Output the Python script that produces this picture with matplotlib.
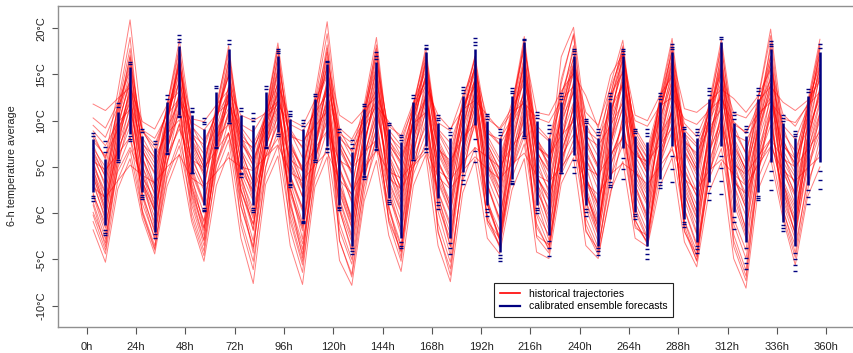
import numpy as np
import matplotlib.pyplot as plt

plt.rcParams['font.family'] = ['Liberation Sans', 'DejaVu Sans']

# lead times (h), midpoints of the 6-h periods
times = list(range(3, 360, 6))

# calibrated ensemble: extreme dashes, dense core, and sparse tail dashes per lead time
ens_top = [8.7, 7.8, 11.9, 16.4, 9.1, 7.8, 12.8, 19.3, 11.4, 10.3,
           13.8, 18.7, 11.4, 10.8, 13.7, 17.8, 11.0, 10.1, 12.9, 16.5,
           9.1, 7.9, 11.8, 17.4, 9.8, 8.5, 12.8, 18.2, 10.6, 9.2,
           13.6, 18.9, 10.7, 9.1, 13.5, 18.8, 10.9, 9.5, 13.0, 17.8,
           10.2, 9.1, 13.0, 17.8, 9.1, 9.1, 13.0, 18.3, 9.3, 9.1,
           13.5, 19.1, 10.9, 9.4, 13.5, 18.6, 10.6, 8.9, 13.4, 18.3]
ens_hi = [8.0, 5.9, 10.9, 15.8, 8.4, 7.0, 12.0, 18.1, 10.6, 9.1,
          13.1, 17.8, 10.6, 9.5, 13.1, 17.0, 10.2, 9.1, 12.4, 16.1,
          8.4, 6.6, 11.3, 16.3, 9.1, 7.7, 12.0, 17.4, 9.8, 8.1,
          12.7, 17.8, 10.0, 8.1, 12.7, 18.5, 10.0, 8.1, 12.0, 17.0,
          9.5, 8.1, 12.0, 17.0, 8.4, 7.7, 12.0, 17.4, 8.8, 8.1,
          12.4, 18.5, 9.8, 8.4, 12.4, 17.8, 9.7, 8.1, 12.7, 17.4]
ens_lo = [2.3, -1.3, 5.9, 8.6, 2.3, -2.0, 6.6, 10.6, 4.3, 0.9,
          7.3, 9.9, 4.8, 0.9, 7.3, 8.8, 3.4, -0.6, 5.9, 7.3,
          0.9, -3.5, 4.1, 7.0, 1.6, -2.7, 5.9, 7.3, 1.6, -2.7,
          4.5, 9.5, 0.9, -4.2, 3.7, 8.4, 0.9, -2.4, 4.5, 6.3,
          0.9, -3.5, 3.7, 7.0, 0.1, -3.5, 3.7, 7.3, -0.6, -3.1,
          3.4, 7.3, 0.1, -3.1, 2.3, 5.5, -0.9, -3.5, 3.0, 5.5]
ens_bot = [1.3, -2.4, 5.5, 7.8, 1.5, -2.7, 6.4, 10.4, 4.3, 0.2,
           7.0, 9.7, 3.9, 0.1, 7.0, 8.4, 2.8, -1.1, 5.5, 6.6,
           0.4, -4.4, 3.7, 6.8, 1.0, -3.8, 5.7, 6.6, 0.5, -4.4,
           3.2, 5.5, -0.3, -5.2, 3.2, 8.1, 0.0, -4.6, 4.3, 4.3,
           -0.3, -4.5, 2.8, 3.7, -0.6, -4.9, 2.7, 3.4, -1.5, -4.3,
           1.4, 2.1, -1.7, -6.0, 1.4, 2.5, -1.9, -6.2, 1.0, 2.6]
ens_tail = [
    [8.4, 1.9, 1.6], [7.2, 6.6, -1.8, -2.1], [11.5, 5.7], [16.1, 8.3, 8.0],
    [8.8, 2.0, 1.8], [7.5, -2.3], [12.4, 6.5], [18.8, 18.5, 10.5],
    [11.1, 10.9, 4.4], [9.9, 9.6, 0.6, 0.4], [13.5, 7.2], [18.3, 9.8],
    [11.1, 4.4, 4.2], [10.3, 10.0, 0.6, 0.3], [13.4, 7.2], [17.5, 17.3, 8.6],
    [10.7, 10.5, 3.2, 3.0], [9.7, 9.4, -0.8, -0.9], [12.7, 5.8, 5.7], [16.3, 7.1, 6.9],
    [8.8, 0.7, 0.6], [7.5, 7.1, -3.8, -4.1], [11.6, 4.0, 3.9], [17.0, 16.7, 6.9],
    [9.5, 1.4, 1.2], [8.2, 7.9, -3.1, -3.5], [12.5, 5.8], [17.9, 17.7, 7.1, 6.9],
    [10.3, 10.1, 1.2, 0.9], [8.8, 8.5, -3.2, -3.8], [13.3, 13.0, 4.1, 3.6], [18.5, 18.2, 8.0, 6.7],
    [10.5, 10.2, 0.5, 0.1], [8.8, 8.5, -4.5, -4.8], [13.2, 13.0, 3.5, 3.3], [18.7, 8.3],
    [10.6, 10.3, 0.6, 0.3], [9.1, 8.7, -3.0, -3.8], [12.7, 12.4, 4.4], [17.5, 17.2, 5.8, 5.0],
    [10.0, 9.8, 0.5, 0.1], [8.8, 8.5, -3.8, -4.1], [12.7, 12.4, 3.4, 3.1], [17.5, 17.2, 6.0, 4.8],
    [8.9, 8.7, -0.1, -0.3], [8.7, 8.3, -3.9, -4.4], [12.7, 12.4, 3.4, 3.0], [18.0, 17.7, 6.2, 4.8],
    [9.1, -0.9, -1.2], [8.8, 8.5, -3.5, -3.9], [13.2, 12.8, 2.9, 2.2], [18.8, 6.2, 4.9, 3.5],
    [10.6, 10.2, -0.4, -1.0], [9.1, 8.8, -3.8, -4.8, -5.4], [13.2, 12.8, 1.9, 1.6], [18.3, 18.1, 4.6, 3.6],
    [10.3, 10.0, -1.3, -1.6], [8.6, 8.4, -4.3, -5.0, -5.6], [13.1, 2.5, 1.8], [17.9, 4.6, 3.6],
]

# historical trajectories (one list of 60 values each)
hist = [
    [11.8, 11.1, 12.4, 13.6, 9.9, 9.1, 11.7, 13.2, 8.6, 7.4, 10.9, 14.8, 9.6, 8.8, 11.0, 13.9,
     10.1, 9.4, 12.2, 15.0, 9.2, 8.0, 10.6, 13.4, 8.4, 6.9, 10.8, 14.6, 9.8, 8.9, 12.7, 15.5,
     10.2, 9.2, 11.4, 14.0, 9.0, 7.8, 11.9, 16.2, 10.9, 9.5, 13.6, 17.1, 10.6, 10.0, 12.7, 14.8,
     9.7, 8.3, 11.5, 15.2, 10.8, 10.3, 12.1, 13.7, 12.0, 11.1, 12.2, 14.3],
    [10.3, 9.2, 11.9, 15.4, 8.8, 7.0, 10.9, 15.9, 10.2, 9.9, 11.7, 13.3, 10.6, 10.0, 10.8, 12.1,
     8.7, 7.2, 11.3, 16.4, 10.6, 9.7, 11.2, 12.6, 9.4, 8.4, 12.0, 15.3, 8.9, 6.7, 11.8, 17.0,
     9.1, 7.5, 12.0, 17.8, 10.9, 10.6, 13.2, 15.1, 12.7, 9.2, 14.9, 17.2, 8.8, 6.5, 11.4, 16.9,
     11.3, 10.9, 12.0, 13.4, 12.4, 10.9, 12.7, 15.6, 10.7, 9.4, 11.8, 16.1],
    [8.2, 6.0, 13.1, 20.9, 9.1, 6.4, 11.2, 17.6, 8.9, 5.3, 11.2, 18.1, 8.1, 5.1, 10.5, 16.8,
     7.9, 4.7, 12.7, 20.7, 9.0, 6.6, 11.7, 19.0, 7.3, 4.0, 11.5, 17.9, 8.0, 5.2, 12.3, 16.6,
     7.5, 4.6, 11.6, 19.1, 8.3, 5.0, 16.9, 20.1, 9.7, 6.8, 13.9, 18.7, 7.8, 4.9, 12.5, 18.9,
     8.6, 5.7, 11.9, 18.8, 9.5, 6.4, 12.6, 19.9, 9.3, 5.9, 12.0, 18.8],
    [7.4, 4.3, 10.8, 16.9, 8.2, 5.8, 11.5, 18.7, 9.5, 6.9, 11.0, 17.2, 9.0, 6.4, 10.9, 18.4,
     8.8, 6.0, 11.8, 17.4, 7.8, 5.0, 10.4, 16.7, 8.7, 6.2, 11.1, 16.2, 7.0, 4.5, 10.9, 15.8,
     8.4, 5.9, 10.8, 17.0, 8.0, 6.0, 12.6, 17.6, 8.6, 6.1, 12.4, 16.5, 9.2, 6.9, 12.1, 17.5,
     8.0, 6.2, 10.9, 16.9, 8.2, 5.4, 11.3, 17.8, 8.7, 6.7, 11.0, 17.2],
    [6.8, 3.9, 10.1, 15.2, 7.2, 4.9, 10.3, 16.2, 8.0, 5.6, 10.3, 16.5, 8.5, 6.9, 10.2, 15.3,
     7.4, 4.5, 10.4, 15.7, 6.1, 2.8, 9.6, 15.5, 7.6, 5.2, 10.2, 14.8, 6.4, 3.6, 10.1, 16.0,
     7.1, 4.1, 9.6, 15.6, 6.6, 4.4, 11.0, 16.0, 7.5, 4.8, 11.2, 15.4, 6.9, 4.3, 10.6, 16.2,
     7.3, 4.8, 10.2, 15.9, 7.0, 4.2, 10.2, 16.3, 7.4, 5.4, 10.1, 15.6],
    [6.0, 3.2, 9.4, 14.3, 4.1, 0.3, 8.0, 12.6, 7.6, 5.0, 10.4, 15.4, 5.2, 2.0, 8.8, 13.1,
     6.2, 3.0, 9.1, 14.1, 7.1, 4.4, 9.9, 15.8, 4.5, 1.2, 8.0, 12.7, 5.6, 2.7, 9.2, 14.7,
     7.4, 4.8, 10.1, 16.0, 4.1, 1.3, 8.7, 13.2, 6.4, 3.9, 10.1, 14.2, 7.4, 5.3, 10.8, 16.3,
     4.8, 1.8, 8.3, 13.0, 6.1, 3.3, 9.4, 14.9, 5.1, 2.0, 8.1, 12.9],
    [5.3, 2.3, 8.7, 13.1, 6.7, 4.4, 10.0, 15.4, 4.6, 1.1, 7.9, 12.3, 6.9, 4.6, 9.8, 14.9,
     4.1, 0.6, 7.6, 12.2, 4.5, 1.4, 7.7, 13.0, 6.8, 4.4, 10.0, 14.6, 3.6, 0.2, 7.4, 12.1,
     5.3, 2.2, 8.4, 13.3, 6.6, 4.6, 10.4, 15.1, 3.9, 0.8, 8.0, 12.2, 5.0, 2.3, 8.8, 13.5,
     6.6, 4.5, 9.8, 15.1, 4.2, 1.0, 7.8, 12.3, 5.6, 3.2, 8.3, 13.0],
    [4.6, 1.4, 8.0, 12.2, 3.1, -0.4, 6.9, 11.2, 5.9, 3.1, 8.7, 12.9, 3.8, 0.4, 7.1, 11.1,
     5.6, 2.6, 8.6, 13.6, 2.4, -1.4, 6.1, 10.8, 4.9, 2.0, 8.2, 12.2, 5.7, 2.8, 9.1, 14.2,
     3.2, -0.6, 6.7, 11.0, 4.0, 1.5, 8.1, 12.0, 5.8, 3.4, 9.6, 13.8, 3.0, -0.2, 7.1, 11.2,
     4.5, 1.9, 7.9, 12.6, 5.8, 3.0, 9.0, 14.0, 3.6, 0.6, 6.8, 10.9],
    [3.9, 0.6, 7.3, 11.3, 5.0, 2.2, 8.3, 13.0, 3.6, 0.0, 6.9, 10.5, 4.4, 1.3, 7.7, 11.5,
     2.6, -1.4, 6.0, 10.2, 3.0, -0.6, 6.3, 10.9, 5.3, 2.8, 8.8, 13.5, 3.3, 0.0, 7.0, 11.5,
     4.6, 1.6, 7.6, 12.6, 2.6, -0.8, 6.6, 10.3, 3.8, 0.9, 7.6, 11.3, 4.6, 1.9, 8.2, 12.9,
     2.6, -0.6, 6.4, 10.4, 3.8, 0.6, 7.0, 11.3, 4.4, 1.8, 7.4, 12.1],
    [3.1, -0.4, 6.6, 10.4, 1.9, -1.8, 5.6, 9.6, 4.3, 0.9, 7.2, 10.8, 2.4, -1.2, 6.2, 9.8,
     3.8, 0.2, 7.2, 11.6, 2.2, -1.6, 5.6, 10.0, 1.9, -1.6, 6.0, 9.4, 3.9, 0.8, 7.6, 12.0,
     2.9, -0.6, 6.1, 10.3, 3.3, 0.5, 7.3, 11.2, 1.9, -1.5, 6.0, 9.6, 2.6, -0.4, 6.5, 10.3,
     3.9, 0.9, 7.6, 12.0, 2.1, -1.6, 5.8, 9.5, 3.2, 0.2, 6.1, 10.0],
    [2.2, -1.6, 5.8, 9.4, 3.4, 0.2, 6.9, 11.0, 2.1, -1.9, 5.2, 8.6, 2.6, -1.2, 6.2, 9.6,
     1.0, -3.3, 4.6, 9.0, 1.3, -2.7, 4.8, 9.0, 3.3, 0.1, 7.0, 10.8, 1.6, -2.2, 5.6, 9.5,
     0.9, -2.9, 4.8, 8.9, 2.5, -0.3, 6.8, 10.4, 2.1, -1.2, 6.0, 9.4, 1.2, -2.0, 5.3, 8.8,
     2.0, -1.2, 5.6, 9.4, 3.1, -0.3, 6.6, 10.6, 1.4, -2.1, 4.8, 8.6],
    [1.2, -2.8, 4.9, 8.3, 0.3, -3.5, 4.2, 8.0, 2.4, -1.6, 5.6, 8.7, 0.8, -3.6, 5.0, 8.9,
     2.1, -1.9, 5.7, 10.0, 0.3, -3.9, 4.0, 8.0, 0.6, -3.4, 4.9, 8.6, 2.3, -1.5, 6.0, 10.4,
     1.1, -2.6, 4.7, 8.3, -0.2, -3.5, 4.6, 7.9, 1.1, -2.4, 5.2, 8.4, 2.1, -1.1, 6.0, 9.6,
     0.4, -3.6, 4.4, 8.1, 1.1, -2.7, 4.8, 8.1, 2.2, -1.0, 5.2, 9.2],
    [-0.9, -4.4, 3.6, 6.8, 0.1, -3.8, 3.8, 7.3, 0.9, -3.5, 4.4, 7.9, -0.6, -5.2, 4.0, 7.3,
     -0.9, -5.6, 3.6, 7.2, -1.8, -5.5, 2.9, 7.0, -0.4, -4.2, 4.2, 7.6, -1.1, -5.3, 3.5, 7.1,
     -0.2, -3.7, 3.8, 7.5, -1.1, -4.0, 4.2, 7.2, -0.5, -3.7, 3.9, 7.4, -0.7, -3.4, 4.1, 7.3,
     -0.8, -4.1, 3.7, 7.0, -1.2, -4.9, 3.8, 7.1, 0.2, -3.5, 3.3, 6.9],
    [-1.8, -5.3, 2.6, 5.9, -0.6, -4.4, 2.9, 6.4, -0.9, -5.2, 3.0, 6.6, -2.7, -7.6, 3.1, 6.2,
     -3.5, -7.7, 2.8, 6.1, -5.1, -7.8, 1.3, 5.7, -2.4, -6.3, 3.0, 6.3, -3.5, -7.4, 2.2, 5.8,
     -2.7, -4.4, 2.5, 5.9, -4.2, -4.9, 3.2, 6.0, -3.5, -4.9, 2.4, 5.6, -2.7, -3.6, 2.9, 6.0,
     -3.1, -5.8, 2.3, 5.5, -4.9, -8.1, 2.6, 5.9, -0.6, -5.6, 1.8, 5.0],
    [2.8, 1.7, 3.5, 5.2, 4.1, 3.3, 5.0, 6.3, 3.8, 2.9, 4.4, 6.0, 5.0, 4.6, 6.1, 7.4,
     4.4, 3.5, 5.2, 6.6, 3.6, 2.1, 4.9, 6.8, 4.5, 3.8, 5.4, 7.0, 3.9, 2.6, 4.6, 6.1,
     4.8, 3.7, 5.3, 6.5, 4.1, 3.4, 5.0, 6.8, 3.3, 2.0, 4.2, 5.4, 4.4, 3.1, 5.1, 6.9,
     3.7, 2.5, 4.6, 5.8, 4.2, 3.0, 5.3, 7.2, 4.6, 3.5, 4.9, 6.1],
    [8.9, 7.3, 9.8, 11.2, 5.9, 1.9, 10.1, 16.8, 4.1, -1.6, 7.6, 12.2, 7.6, 5.8, 8.9, 11.5,
     1.5, -4.8, 5.4, 12.0, 0.4, -4.2, 6.8, 14.2, 7.9, 6.0, 9.7, 10.9, 2.1, -3.6, 6.6, 13.4,
     8.6, 8.0, 10.2, 12.9, 1.4, -2.9, 7.4, 14.3, 0.6, -3.1, 7.1, 15.3, 6.5, 5.0, 8.4, 10.8,
     -0.9, -4.7, 6.0, 13.9, 7.2, 4.8, 9.6, 14.6, 2.7, -2.4, 8.4, 15.0],
    [0.1, -3.2, 6.9, 13.9, 7.5, 6.1, 8.6, 10.1, 3.0, -2.4, 9.8, 16.4, 1.9, -4.3, 8.0, 14.4,
     8.3, 7.8, 9.4, 11.0, 3.2, -0.4, 9.1, 15.6, 0.9, -4.8, 8.6, 16.6, 6.9, 5.7, 8.1, 9.7,
     1.6, -3.0, 9.5, 16.7, 7.1, 6.2, 8.4, 9.9, 4.0, -0.6, 10.7, 15.8, 0.6, -2.6, 7.0, 13.8,
     7.7, 6.5, 9.2, 11.3, -2.3, -6.2, 5.7, 12.9, 6.8, 4.3, 10.6, 17.3],
    [4.8, 0.2, 9.9, 17.1, 3.6, -1.5, 9.3, 16.6, 6.4, 4.4, 8.2, 9.6, 3.9, -1.9, 9.6, 17.0,
     2.9, -2.8, 8.7, 17.8, 5.9, 2.6, 10.1, 17.4, 4.4, 0.6, 10.5, 15.9, 0.2, -4.5, 6.1, 13.2,
     5.2, 1.5, 10.9, 18.0, 3.5, -1.3, 11.8, 18.1, 2.5, -2.3, 9.9, 17.3, 3.1, -0.8, 10.9, 17.9,
     2.3, -2.1, 9.6, 17.5, 3.2, -1.9, 9.9, 18.4, 3.4, -1.4, 10.3, 17.7],
    [9.5, 8.2, 11.5, 14.2, 9.0, 8.1, 10.6, 12.4, 9.8, 9.0, 10.7, 11.9, 9.3, 7.5, 10.3, 11.8,
     9.6, 8.9, 10.8, 12.9, 8.1, 6.8, 9.3, 11.6, 9.9, 8.0, 11.4, 13.7, 10.6, 9.1, 11.2, 12.2,
     10.6, 9.0, 10.9, 11.9, 10.3, 9.8, 12.2, 13.7, 9.0, 7.9, 11.2, 13.9, 10.0, 9.4, 11.6, 12.5,
     10.2, 9.6, 11.1, 12.4, 9.6, 8.8, 10.8, 12.0, 10.2, 9.8, 11.6, 13.1],
    [-0.2, -4.0, 5.2, 10.6, 1.8, -2.9, 6.7, 12.4, 0.2, -4.1, 7.1, 13.8, 2.5, -1.8, 8.9, 15.5,
     4.0, 0.5, 10.7, 18.2, 6.8, 4.2, 11.2, 17.8, 8.0, 5.4, 11.6, 17.1, 7.6, 5.0, 11.0, 15.4,
     6.6, 3.3, 10.5, 16.2, 5.8, 2.2, 10.7, 16.9, 7.9, 5.1, 12.0, 17.6, 7.2, 4.5, 11.9, 17.4,
     6.6, 3.4, 10.6, 16.4, 7.5, 4.6, 11.5, 17.0, 7.9, 5.2, 11.2, 16.6],
    [7.0, 5.0, 11.4, 17.8, 6.8, 4.2, 10.0, 15.1, 5.0, 1.2, 8.2, 13.1, 4.1, -0.3, 7.6, 12.3,
     0.8, -3.9, 5.9, 10.8, -1.1, -5.0, 4.1, 9.3, -0.8, -4.1, 5.2, 10.0, 0.8, -2.8, 6.4, 11.4,
     -0.7, -3.4, 4.8, 10.3, -1.5, -3.8, 6.1, 11.6, -1.2, -4.2, 5.0, 10.2, 0.2, -2.9, 6.2, 11.2,
     -1.9, -5.1, 5.0, 10.6, -0.6, -4.0, 5.7, 10.4, 1.0, -2.8, 5.9, 10.7],
    [5.7, 1.3, 9.1, 14.7, 5.2, 0.6, 9.9, 16.0, 7.4, 4.4, 8.9, 11.3, 5.8, 1.5, 10.5, 17.9,
     6.9, 2.7, 11.1, 16.9, 4.0, -0.9, 8.3, 14.6, 5.5, 1.4, 10.7, 16.8, 4.7, 0.6, 9.4, 14.2,
     3.1, -1.0, 8.7, 15.2, 4.4, 0.0, 9.8, 15.5, 5.1, 0.9, 10.4, 16.5, 4.8, 1.0, 9.5, 15.5,
     4.1, 0.0, 9.0, 15.2, 5.6, 1.4, 9.7, 15.7, 4.9, 0.9, 9.6, 16.1],
    [1.9, -2.2, 7.5, 12.7, 2.9, -1.0, 8.2, 14.6, 1.9, -2.9, 6.9, 12.6, 0.7, -3.8, 6.6, 13.0,
     0.2, -4.4, 7.3, 13.8, 1.6, -2.4, 7.2, 13.5, 2.7, -1.9, 7.8, 14.3, 1.2, -3.6, 7.5, 14.0,
     0.9, -2.6, 7.0, 13.7, 0.1, -2.4, 7.9, 13.6, 1.3, -2.0, 8.1, 14.2, -0.8, -3.2, 7.6, 14.1,
     0.5, -3.3, 7.5, 14.3, 1.8, -2.3, 8.2, 13.6, 1.9, -2.1, 7.5, 13.5],
    [4.2, 1.0, 7.0, 9.9, 2.2, -2.1, 7.1, 13.1, 5.3, 2.5, 9.9, 15.0, 6.8, 3.3, 9.3, 13.4,
     5.0, 1.8, 8.0, 12.0, 2.7, -1.0, 7.6, 12.3, 3.6, 0.3, 8.5, 13.0, 5.3, 3.0, 10.4, 16.1,
     5.9, 2.7, 9.4, 14.6, 6.4, 3.2, 10.4, 15.6, 3.4, 0.4, 9.0, 14.7, 5.6, 2.6, 10.1, 15.0,
     5.5, 2.4, 10.1, 15.7, 4.0, 0.5, 8.6, 14.0, 5.2, 2.1, 9.2, 14.8],
    [6.5, 4.0, 9.7, 14.0, 5.9, 3.0, 10.4, 17.0, 6.2, 2.9, 10.0, 15.8, 7.7, 5.2, 9.6, 14.1,
     5.5, 1.8, 10.0, 16.0, 5.0, 1.1, 8.8, 14.9, 6.3, 3.5, 9.9, 15.0, 6.7, 3.9, 10.8, 15.2,
     5.4, 2.6, 9.9, 16.4, 7.4, 5.4, 11.2, 15.9, 5.9, 2.5, 11.8, 16.8, 6.2, 3.6, 10.9, 16.6,
     6.9, 4.1, 10.4, 16.2, 6.6, 3.7, 10.9, 16.9, 6.1, 3.9, 10.6, 15.7],
    [4.0, 0.0, 8.4, 12.9, 4.4, 1.0, 9.0, 14.3, 3.2, -1.0, 7.9, 12.9, 5.5, 2.9, 8.3, 12.2,
     3.4, -1.0, 8.0, 13.6, 4.7, 1.9, 7.9, 12.1, 3.0, -0.8, 7.4, 12.4, 4.4, 1.2, 8.9, 13.1,
     3.9, 0.6, 8.0, 12.7, 5.0, 2.6, 9.4, 14.0, 2.8, -1.0, 7.4, 12.8, 4.0, 1.2, 9.1, 14.6,
     3.4, 0.2, 8.2, 13.3, 4.9, 2.1, 9.0, 13.2, 3.0, -0.4, 7.9, 13.6],
    [7.8, 6.2, 9.0, 11.9, 7.6, 5.4, 9.2, 12.1, 8.4, 6.4, 9.3, 13.6, 8.0, 7.1, 9.5, 12.9,
     7.1, 5.0, 9.9, 13.7, 8.6, 7.6, 10.0, 12.1, 7.4, 5.6, 9.6, 12.4, 7.2, 4.8, 9.9, 14.5,
     8.8, 7.4, 9.7, 12.3, 7.4, 5.9, 10.0, 13.1, 8.3, 7.3, 9.5, 11.9, 7.6, 5.4, 10.2, 14.2,
     8.6, 7.2, 10.0, 12.8, 8.5, 7.8, 10.4, 12.5, 7.3, 5.9, 9.1, 12.4],
    [0.9, -3.6, 6.0, 11.8, -0.1, -4.0, 5.4, 11.4, 1.4, -3.0, 6.3, 12.6, -1.3, -6.1, 4.8, 11.0,
     -1.8, -6.4, 4.3, 11.6, -3.0, -6.6, 3.3, 10.7, -1.0, -5.2, 4.7, 11.3, -2.1, -6.0, 3.9, 10.9,
     -1.1, -3.5, 4.6, 11.9, -2.4, -3.4, 5.0, 11.8, -2.0, -3.9, 3.5, 10.6, -1.6, -2.4, 4.8, 11.5,
     -2.0, -4.5, 3.9, 11.1, -3.0, -6.8, 4.4, 11.6, 0.5, -4.3, 3.9, 10.8],
    [5.0, 2.1, 10.5, 16.0, 7.0, 3.1, 11.7, 17.9, 7.0, 4.0, 10.5, 14.9, 6.4, 2.2, 10.0, 16.3,
     9.1, 7.0, 11.5, 14.8, 7.3, 4.4, 11.0, 17.2, 6.2, 2.4, 10.3, 16.4, 8.7, 6.1, 11.6, 14.3,
     6.4, 3.6, 11.3, 18.4, 8.0, 4.8, 14.5, 19.2, 6.8, 3.8, 12.9, 17.9, 8.4, 6.0, 11.7, 15.3,
     7.6, 4.7, 11.4, 17.9, 8.9, 6.5, 11.6, 16.2, 6.4, 3.0, 11.4, 18.0],
    [5.6, 4.7, 6.4, 8.2, 3.4, 0.4, 6.3, 9.1, 5.8, 4.9, 6.8, 8.7, 3.2, -0.6, 7.3, 10.4,
     5.8, 4.6, 7.0, 8.9, 5.7, 4.8, 6.6, 7.9, 2.1, -2.4, 6.4, 11.9, 4.6, 3.6, 5.5, 7.1,
     6.1, 5.0, 7.2, 9.0, 2.0, -1.9, 5.6, 9.5, 4.9, 4.1, 6.4, 8.1, 6.2, 5.6, 7.4, 9.2,
     3.0, -0.4, 6.8, 9.8, 5.3, 4.2, 6.2, 8.0, 5.9, 5.0, 6.9, 8.8],
    [3.5, -0.8, 7.9, 13.5, 1.0, -2.6, 5.4, 9.7, -0.4, -4.6, 5.1, 10.0, 1.6, -3.0, 7.3, 13.7,
     -0.4, -5.2, 6.5, 14.6, -2.9, -6.9, 2.0, 8.4, 0.3, -3.7, 6.3, 12.8, -1.9, -6.7, 4.4, 9.9,
     -0.8, -2.7, 5.4, 10.8, -2.6, -4.3, 4.7, 10.6, -1.8, -4.5, 2.0, 8.7, -1.3, -3.1, 5.6, 10.9,
     -1.4, -5.2, 3.9, 9.7, -3.6, -7.3, 4.3, 11.0, -0.2, -4.8, 2.5, 8.1],
    [6.4, 2.8, 11.9, 19.0, 6.1, 2.6, 10.2, 16.4, 7.9, 4.9, 11.7, 17.6, 6.7, 3.3, 11.0, 17.6,
     7.1, 3.5, 12.0, 19.4, 7.6, 5.2, 10.8, 18.2, 5.9, 2.6, 11.9, 17.4, 7.4, 4.0, 11.0, 16.9,
     6.8, 3.6, 11.1, 18.6, 7.0, 3.6, 14.0, 19.4, 8.1, 5.0, 12.7, 18.1, 7.0, 4.2, 12.3, 18.3,
     7.9, 5.2, 11.4, 18.2, 8.0, 4.5, 12.4, 19.2, 8.0, 4.8, 11.6, 18.3],
    [2.0, -1.1, 4.5, 7.1, 3.9, 1.5, 7.4, 11.6, 2.7, -0.8, 6.2, 11.0, 4.6, 2.4, 6.1, 8.1,
     2.5, -1.6, 7.0, 12.7, 0.6, -3.1, 5.9, 11.8, 3.8, 2.6, 5.1, 6.6, 2.4, -1.1, 6.6, 12.6,
     1.2, -1.9, 6.3, 12.1, 3.9, 1.9, 6.1, 8.5, 2.4, -1.6, 6.8, 11.6, 3.5, 0.8, 7.1, 12.1,
     1.4, -2.3, 6.7, 11.8, 3.4, 2.1, 5.6, 7.8, 2.6, -0.8, 6.6, 11.8],
    [8.6, 5.8, 11.1, 16.3, 8.9, 7.4, 10.9, 14.1, 9.4, 7.8, 10.5, 12.9, 8.3, 5.6, 10.4, 15.6,
     7.6, 4.6, 11.0, 15.9, 8.5, 6.0, 10.9, 16.0, 9.0, 7.3, 11.8, 14.2, 9.1, 7.6, 11.5, 13.7,
     7.9, 5.5, 10.5, 14.9, 9.5, 8.0, 12.9, 16.7, 10.1, 8.3, 12.8, 15.2, 8.0, 5.9, 11.0, 15.8,
     9.0, 7.5, 10.9, 14.1, 9.9, 8.6, 11.7, 14.4, 9.5, 8.0, 11.3, 15.0],
]

xtick_vals = list(range(0, 361, 24))
xtick_labels = [f"{h}h" for h in xtick_vals]
ytick_vals = [-10, -5, 0, 5, 10, 15, 20]
ytick_labels = [f"{v}°C" for v in ytick_vals]

red = '#ff0000'
navy = '#000080'

fig = plt.figure(figsize=(8.54, 3.53), dpi=100)
ax = fig.add_axes([58 / 854, 26 / 353, 796 / 854, 321 / 353])

for tr in hist:
    ax.plot(times, tr, color=red, lw=0.7, alpha=0.5, zorder=2)

# ensemble members drawn as short dashes, dense core as a vertical bar
ax.vlines(times, ens_lo, ens_hi, color=navy, lw=1.8, zorder=3)
ax.plot(times, ens_top, ls='none', marker='_', ms=3, mew=1.0, color=navy, zorder=3)
ax.plot(times, ens_bot, ls='none', marker='_', ms=3, mew=1.0, color=navy, zorder=3)
for t, vals in zip(times, ens_tail):
    ax.plot([t] * len(vals), vals, ls='none', marker='_', ms=3, mew=1.0, color=navy, zorder=3)

ax.set_xlim(-14.1, 373.6)
ax.set_ylim(-12.3, 22.4)

ax.set_xticks(xtick_vals)
ax.set_xticklabels(xtick_labels)
ax.set_yticks(ytick_vals)
ax.set_yticklabels(ytick_labels, rotation=90, va='center')
ax.tick_params(axis='both', colors='#555555', labelcolor='#222222', labelsize=8, width=0.8)
ax.tick_params(axis='x', length=5, pad=6)
ax.tick_params(axis='y', length=4.5, pad=4)

for s in ['left', 'bottom', 'top']:
    ax.spines[s].set_color('#909090')
    ax.spines[s].set_linewidth(1.0)
ax.spines['right'].set_visible(False)

fig.text(12 / 854, 1 - 166 / 353, '6-h temperature average', rotation=90,
         ha='center', va='center', fontsize=7.8, color='#222222')

handles = [plt.Line2D([], [], color=red, lw=1.2),
           plt.Line2D([], [], color=navy, lw=1.6)]
leg = ax.legend(handles, ['historical trajectories', 'calibrated ensemble forecasts'],
                loc='lower left', bbox_to_anchor=(0.548, 0.031), fontsize=7.5,
                frameon=True, fancybox=False, framealpha=1, edgecolor='#222222',
                handlelength=1.9, handletextpad=0.9, labelspacing=0.25,
                borderpad=0.55, borderaxespad=0)
leg.get_frame().set_linewidth(0.8)

fig.savefig('out.png', dpi=100)
